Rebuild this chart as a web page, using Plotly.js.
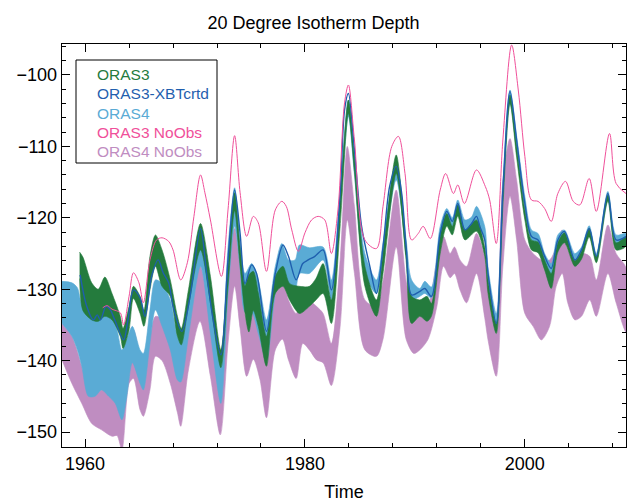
<!DOCTYPE html>
<html>
<head>
<meta charset="utf-8">
<script src="https://cdn.plot.ly/plotly-3.0.1.min.js"></script>
<style>
  html, body { margin: 0; padding: 0; background: #ffffff; }
  #chart { width: 627px; height: 502px; }
</style>
</head>
<body>
<div id="chart"></div>
<script>
// Legend entries, in drawing order of the key
const seriesNames = ["ORAS3", "ORAS3-XBTcrtd", "ORAS4", "ORAS3 NoObs", "ORAS4 NoObs"];
const seriesColors = ["#247b3d", "#1f5fae", "#5aabd5", "#f0509a", "#bf8dc1"];

// ORAS3 ensemble spread (upper / lower envelope), metres
const oras3Time = [1959.5, 1959.8, 1960.6, 1961.2, 1961.8, 1962.45, 1963.2, 1963.45, 1964.0, 1964.4, 1965.0, 1965.35, 1965.9, 1966.4, 1967.0, 1967.75, 1968.4, 1968.75, 1969.4, 1970.5, 1971.4, 1972.35, 1973.0, 1973.6, 1974.1, 1974.55, 1974.9, 1975.3, 1975.75, 1976.5, 1977.3, 1978.0, 1978.6, 1979.5, 1980.4, 1981.0, 1981.65, 1982.4, 1983.2, 1983.95, 1984.5, 1985.45, 1986.5, 1987.1, 1988.3, 1989.2, 1989.7, 1990.45, 1991.1, 1991.5, 1992.3, 1992.9, 1993.4, 1993.9, 1994.55, 1995.6, 1996.35, 1996.65, 1997.4, 1998.0, 1998.65, 1999.25, 2000.0, 2000.6, 2001.2, 2001.8, 2002.4, 2003.0, 2003.6, 2004.55, 2005.15, 2005.85, 2006.5, 2007.55, 2008.3, 2009.2];
const oras3Upper = [-124.8, -125.5, -129.1, -130.0, -128.3, -130.6, -133.8, -135.5, -132.4, -129.6, -131.0, -133.0, -125.4, -122.4, -124.5, -128.7, -133.8, -135.5, -130.1, -120.8, -128.2, -138.5, -126.8, -116.5, -124.1, -129.5, -128.0, -127.5, -130.5, -136.6, -128.2, -126.8, -129.2, -129.6, -129.6, -128.5, -126.4, -131.5, -117.5, -103.5, -111.5, -126.8, -131.5, -125.0, -111.2, -124.0, -131.0, -131.5, -131.0, -132.0, -122.6, -119.4, -121.2, -118.2, -121.7, -120.3, -124.1, -128.7, -134.8, -117.0, -102.8, -110.0, -118.9, -123.1, -123.4, -125.9, -127.8, -123.5, -122.1, -126.0, -124.7, -121.5, -125.4, -116.8, -123.5, -122.7];
const oras3Lower = [-128.5, -133.0, -134.3, -134.5, -133.8, -134.3, -136.6, -138.3, -135.7, -131.3, -133.4, -135.2, -130.1, -126.8, -129.6, -131.0, -136.6, -137.8, -132.4, -124.5, -131.9, -141.0, -129.6, -119.0, -126.8, -133.4, -136.0, -133.0, -135.2, -140.8, -130.6, -129.6, -131.5, -133.4, -132.4, -131.5, -130.6, -134.8, -121.2, -105.4, -113.5, -129.6, -133.8, -127.8, -113.8, -126.0, -134.8, -133.8, -134.5, -133.8, -125.0, -121.2, -122.4, -119.8, -123.1, -121.9, -125.4, -130.6, -136.2, -118.5, -104.0, -111.5, -120.3, -124.5, -124.9, -127.3, -129.9, -124.8, -123.5, -126.8, -125.8, -122.7, -126.3, -117.7, -124.5, -124.0];

// ORAS3 with XBT-corrected input
const xbtTime = [1959.55, 1960.15, 1960.75, 1961.1, 1961.4, 1961.9, 1962.3, 1962.7, 1963.5, 1963.9, 1964.4, 1965.0, 1965.45, 1966.05, 1966.65, 1967.1, 1967.6, 1968.0, 1968.8, 1969.55, 1970.5, 1971.05, 1971.65, 1972.35, 1973.0, 1973.6, 1974.1, 1974.55, 1975.15, 1975.6, 1976.5, 1977.3, 1978.0, 1978.5, 1979.2, 1979.8, 1980.3, 1980.9, 1981.65, 1982.4, 1983.2, 1983.6, 1983.95, 1984.5, 1985.15, 1985.9, 1986.5, 1987.1, 1987.7, 1988.3, 1988.8, 1989.2, 1989.7, 1990.45, 1990.9, 1991.5, 1992.3, 1992.9, 1993.4, 1993.9, 1994.55, 1995.15, 1995.6, 1995.9, 1996.35, 1996.65, 1997.4, 1998.0, 1998.65, 1999.25, 2000.0, 2000.6, 2001.2, 2001.8, 2002.4, 2003.0, 2003.6, 2004.55, 2005.15, 2005.85, 2006.5, 2007.55, 2008.3, 2009.2];
const xbtDepth = [-128.0, -132.4, -134.3, -133.6, -134.3, -132.4, -132.9, -134.3, -137.1, -134.3, -130.1, -131.2, -133.8, -128.2, -125.9, -127.7, -129.1, -132.4, -135.9, -131.0, -121.5, -127.7, -134.3, -139.2, -125.9, -116.1, -122.2, -129.2, -126.6, -127.8, -135.9, -127.8, -123.8, -125.4, -128.7, -126.4, -125.9, -125.4, -124.5, -130.1, -116.6, -104.9, -102.6, -110.5, -121.2, -126.8, -130.6, -124.1, -115.6, -112.8, -116.6, -124.1, -130.8, -130.3, -129.9, -131.0, -122.2, -119.1, -120.5, -118.0, -121.7, -120.8, -119.8, -121.2, -123.1, -127.8, -134.8, -116.1, -102.3, -109.1, -118.0, -122.6, -123.1, -125.4, -127.1, -123.1, -121.9, -125.9, -124.5, -121.5, -125.4, -116.6, -123.1, -122.6];

// ORAS4 ensemble spread
const oras4Time = [1957.9, 1958.8, 1959.3, 1959.7, 1960.3, 1960.9, 1961.5, 1962.15, 1962.75, 1963.35, 1963.8, 1964.3, 1965.0, 1965.3, 1965.9, 1966.4, 1967.0, 1967.75, 1968.4, 1968.7, 1969.4, 1970.5, 1971.4, 1972.35, 1973.0, 1973.6, 1974.1, 1974.55, 1975.15, 1975.75, 1976.5, 1977.3, 1977.9, 1978.5, 1979.1, 1979.5, 1980.4, 1981.65, 1982.4, 1983.2, 1983.95, 1984.5, 1985.45, 1986.5, 1987.1, 1988.3, 1989.2, 1989.7, 1990.45, 1990.9, 1991.5, 1992.3, 1992.9, 1993.4, 1993.9, 1994.55, 1995.15, 1995.6, 1996.35, 1996.65, 1997.4, 1998.0, 1998.65, 1999.25, 2000.0, 2000.6, 2001.2, 2001.8, 2002.4, 2003.0, 2003.6, 2004.55, 2005.15, 2005.85, 2006.5, 2007.55, 2008.3, 2009.2];
const oras4Upper = [-128.9, -129.1, -129.8, -132.0, -132.5, -133.8, -133.0, -133.8, -134.8, -138.5, -137.0, -135.2, -138.5, -139.0, -132.9, -128.7, -129.2, -131.5, -136.6, -137.5, -132.0, -121.7, -130.6, -139.5, -124.1, -115.8, -123.4, -127.8, -126.4, -128.7, -134.3, -126.8, -123.6, -125.9, -125.9, -123.8, -124.2, -124.1, -128.7, -116.0, -103.5, -111.5, -125.0, -128.7, -123.5, -112.4, -123.0, -128.7, -129.9, -128.9, -129.7, -121.2, -118.7, -120.0, -117.5, -120.3, -119.9, -118.4, -121.2, -126.9, -133.4, -115.5, -102.1, -108.5, -117.0, -121.7, -122.2, -125.0, -126.4, -122.4, -121.7, -125.0, -124.1, -121.1, -125.0, -116.3, -122.4, -122.2];
const oras4Lower = [-134.8, -136.6, -138.5, -140.8, -145.0, -145.0, -144.1, -145.0, -146.0, -148.3, -145.0, -140.3, -143.2, -144.1, -137.6, -132.9, -135.2, -138.5, -142.7, -143.0, -136.6, -126.8, -136.2, -146.0, -130.6, -121.2, -127.1, -133.2, -133.2, -136.2, -139.9, -130.6, -127.3, -129.6, -130.1, -127.8, -127.8, -125.9, -131.5, -119.0, -105.8, -114.0, -127.8, -130.6, -125.5, -114.7, -125.0, -131.5, -131.0, -130.6, -131.2, -123.1, -119.8, -121.2, -118.9, -122.2, -121.5, -120.3, -123.1, -128.7, -135.2, -117.5, -104.0, -110.5, -118.9, -123.1, -123.6, -126.4, -128.7, -123.8, -123.1, -126.4, -125.3, -122.2, -126.1, -117.5, -123.8, -123.8];

// ORAS3 run without observations
const noObs3Time = [1961.6, 1962.0, 1962.45, 1963.2, 1963.5, 1964.0, 1964.4, 1964.9, 1965.3, 1965.9, 1966.5, 1967.0, 1967.6, 1968.0, 1968.7, 1969.3, 1969.9, 1970.5, 1970.9, 1971.4, 1972.4, 1973.0, 1973.6, 1974.1, 1974.7, 1975.3, 1975.75, 1976.5, 1977.3, 1977.9, 1978.3, 1978.8, 1979.4, 1980.0, 1980.6, 1981.2, 1981.8, 1982.4, 1983.0, 1983.6, 1983.95, 1984.5, 1985.45, 1986.5, 1987.1, 1987.9, 1988.5, 1989.1, 1989.7, 1990.3, 1990.75, 1991.4, 1992.3, 1992.8, 1993.5, 1993.9, 1994.5, 1995.6, 1996.4, 1996.8, 1997.4, 1998.0, 1998.8, 1999.4, 2000.0, 2000.6, 2001.2, 2001.8, 2002.4, 2003.0, 2003.7, 2004.4, 2005.0, 2005.85, 2006.5, 2007.7, 2008.3, 2009.2];
const noObs3Depth = [-132.6, -132.3, -132.8, -133.3, -135.0, -131.0, -127.7, -129.1, -131.9, -125.9, -123.1, -122.8, -123.3, -124.5, -128.7, -126.3, -119.8, -114.0, -116.5, -120.3, -128.2, -118.9, -108.5, -116.5, -122.6, -119.8, -120.7, -127.5, -118.9, -117.7, -118.4, -121.7, -124.7, -122.1, -120.3, -119.8, -120.3, -125.0, -118.9, -103.9, -101.4, -109.1, -123.1, -124.3, -118.4, -110.0, -108.6, -113.8, -123.1, -122.2, -121.2, -122.9, -116.1, -113.8, -116.6, -115.4, -118.0, -113.3, -115.6, -117.5, -123.6, -109.1, -95.8, -102.1, -111.4, -117.5, -117.7, -118.7, -120.5, -116.6, -114.9, -117.7, -118.2, -114.5, -119.1, -108.2, -115.2, -116.6];

// ORAS4 run without observations (spread)
const noObs4Time = [1957.9, 1958.8, 1959.7, 1960.6, 1961.5, 1962.45, 1962.9, 1963.35, 1964.0, 1964.4, 1965.0, 1965.3, 1965.9, 1966.4, 1967.0, 1967.75, 1968.4, 1968.7, 1969.4, 1970.45, 1971.4, 1972.3, 1973.0, 1973.6, 1974.1, 1974.7, 1975.3, 1975.9, 1976.5, 1977.3, 1977.95, 1978.5, 1979.2, 1979.8, 1980.4, 1981.05, 1981.65, 1982.4, 1983.2, 1983.85, 1984.5, 1985.45, 1986.5, 1987.1, 1988.3, 1989.2, 1989.9, 1990.45, 1991.2, 1992.0, 1992.6, 1993.2, 1993.6, 1994.1, 1994.7, 1995.6, 1996.35, 1996.65, 1997.4, 1998.0, 1998.65, 1999.25, 2000.0, 2000.75, 2001.5, 2002.25, 2002.85, 2003.4, 2003.9, 2004.55, 2005.15, 2005.9, 2006.5, 2007.55, 2008.3, 2009.2];
const noObs4Upper = [-134.8, -136.6, -140.8, -145.0, -144.1, -144.5, -142.0, -140.3, -136.6, -135.7, -139.4, -140.0, -136.6, -133.8, -134.2, -136.6, -140.3, -141.0, -133.8, -126.7, -134.3, -144.1, -127.8, -121.5, -126.8, -134.3, -132.4, -135.2, -140.0, -130.1, -128.0, -131.5, -133.4, -130.6, -131.5, -132.4, -133.4, -137.6, -125.9, -110.0, -118.4, -131.5, -132.4, -128.9, -116.1, -128.9, -133.4, -133.8, -132.4, -125.9, -122.6, -125.0, -124.1, -125.9, -126.8, -122.2, -125.5, -129.6, -136.2, -114.7, -108.9, -114.7, -123.1, -125.0, -125.9, -125.9, -124.1, -121.7, -124.5, -126.4, -125.0, -125.4, -128.7, -121.0, -125.0, -127.0];
const noObs4Lower = [-139.9, -143.2, -146.0, -148.8, -149.7, -150.6, -150.5, -152.5, -143.2, -142.5, -146.9, -147.8, -144.1, -139.4, -140.0, -143.2, -147.3, -149.2, -141.3, -134.5, -142.2, -150.4, -137.6, -129.6, -135.5, -142.2, -139.8, -142.6, -148.0, -138.5, -137.0, -139.9, -142.5, -137.6, -138.5, -139.9, -140.3, -143.5, -135.2, -120.3, -127.8, -138.5, -139.4, -137.0, -124.1, -137.0, -139.0, -138.5, -137.0, -132.4, -126.8, -128.4, -127.8, -130.1, -131.9, -127.8, -134.0, -137.1, -142.2, -126.8, -117.0, -123.1, -133.4, -135.2, -137.1, -135.2, -129.6, -127.8, -131.9, -134.3, -133.8, -131.5, -133.8, -127.8, -131.9, -136.0];

// Tick labels
const xTickVals = [1960, 1980, 2000];
const xTickText = ["1960", "1980", "2000"];
const yTickVals = [-150, -140, -130, -120, -110, -100];
const yTickText = ["\u2212150", "\u2212140", "\u2212130", "\u2212120", "\u2212110", "\u2212100"];

const FONT = "Liberation Sans, Arial, Helvetica, sans-serif";

// Shaded envelope drawn as a closed polygon: upper edge forward, lower edge back
function envelope(t, upper, lower, color, name) {
  return {
    type: "scatter", mode: "lines", name: name,
    x: t.concat(t.slice().reverse()),
    y: upper.concat(lower.slice().reverse()),
    fill: "toself", fillcolor: color,
    line: { color: color, width: 0.6, shape: "spline", smoothing: 0.8 },
    hoverinfo: "skip", showlegend: false
  };
}

function curve(t, v, color, width, name) {
  return {
    type: "scatter", mode: "lines", name: name, x: t, y: v,
    line: { color: color, width: width, shape: "spline", smoothing: 0.9 },
    hoverinfo: "skip", showlegend: false
  };
}

const traces = [
  envelope(noObs4Time, noObs4Upper, noObs4Lower, seriesColors[4], seriesNames[4]),
  envelope(oras4Time, oras4Upper, oras4Lower, seriesColors[2], seriesNames[2]),
  envelope(oras3Time, oras3Upper, oras3Lower, seriesColors[0], seriesNames[0]),
  curve(xbtTime, xbtDepth, seriesColors[1], 1.4, seriesNames[1]),
  curve(noObs3Time, noObs3Depth, seriesColors[3], 1.0, seriesNames[3])
];

// Key: coloured names inside a framed box, upper left of the plot
const plotL = 62, plotR = 626, plotT = 44, plotB = 447;
const px2x = p => (p - plotL) / (plotR - plotL);
const px2y = p => (plotB - p) / (plotB - plotT);
const keyRowY = [74.5, 93.8, 113.1, 132.4, 151.7];
const annotations = seriesNames.map((n, i) => ({
  text: n, xref: "paper", yref: "paper",
  x: px2x(95), y: px2y(keyRowY[i]), xanchor: "left", yanchor: "middle",
  showarrow: false, font: { family: FONT, size: 15.5, color: seriesColors[i] }
}));

const layout = {
  width: 627, height: 502,
  margin: { l: plotL, r: 627 - plotR, t: plotT, b: 502 - plotB },
  paper_bgcolor: "#ffffff", plot_bgcolor: "#ffffff",
  font: { family: FONT, size: 18, color: "#000000" },
  title: { text: "20 Degree Isotherm Depth", font: { family: FONT, size: 18, color: "#000" },
           x: 0.5, xanchor: "center", y: 1 - 23 / 502, yanchor: "middle" },
  showlegend: false,
  xaxis: {
    range: [1957.9, 2009.2], showgrid: false, zeroline: false,
    showline: true, linecolor: "#000", linewidth: 1.3, mirror: "ticks",
    ticks: "inside", ticklen: 8, tickwidth: 1, tickcolor: "#000",
    tickvals: xTickVals, ticktext: xTickText,
    minor: { dtick: 4, tick0: 1960, ticks: "inside", ticklen: 4, tickwidth: 1, tickcolor: "#000", showgrid: false },
    tickfont: { family: FONT, size: 18 },
    title: { text: "Time", font: { family: FONT, size: 18 }, standoff: 13 },
    automargin: false
  },
  yaxis: {
    range: [-152.1, -95.66], showgrid: false, zeroline: false,
    showline: true, linecolor: "#000", linewidth: 1.3, mirror: "ticks",
    ticks: "inside", ticklen: 8, tickwidth: 1, tickcolor: "#000",
    tickvals: yTickVals, ticktext: yTickText,
    minor: { dtick: 2, tick0: -100, ticks: "inside", ticklen: 4, tickwidth: 1, tickcolor: "#000", showgrid: false },
    tickfont: { family: FONT, size: 18 },
    automargin: false
  },
  shapes: [{
    type: "rect", xref: "paper", yref: "paper",
    x0: px2x(76), x1: px2x(217), y0: px2y(163), y1: px2y(60),
    line: { color: "#000", width: 1 }, fillcolor: "rgba(255,255,255,0)", layer: "above"
  }],
  annotations: annotations
};

Plotly.newPlot("chart", traces, layout, { staticPlot: true, displayModeBar: false });
</script>
</body>
</html>
